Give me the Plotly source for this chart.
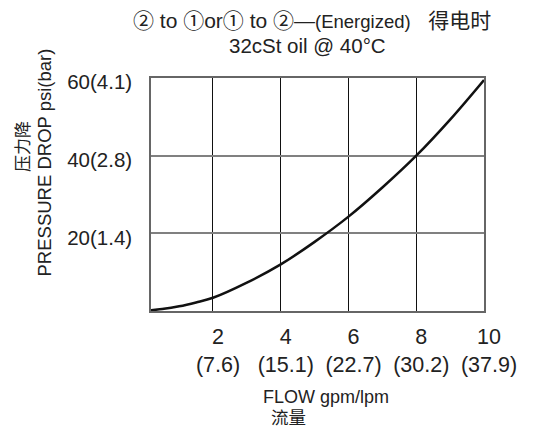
import plotly.graph_objects as go

flow_gpm = [0.17, 0.5, 1, 1.5, 2, 3, 4, 5, 6, 7, 8, 9, 10]
pressure_psi = [0.2, 0.5, 1.2, 2.2, 3.4, 7.3, 12.0, 17.8, 24.3, 31.8, 40.0, 49.3, 59.5]

x_tick_vals = [2, 4, 6, 8, 10]
x_tick_gpm = ["2", "4", "6", "8", "10"]
x_tick_lpm = ["(7.6)", "(15.1)", "(22.7)", "(30.2)", "(37.9)"]
y_tick_vals = [20, 40, 60]
y_tick_text = ["20(1.4)", "40(2.8)", "60(4.1)"]

FONT = "Liberation Sans, Arial, Noto Sans CJK SC, sans-serif"
INK = "#222222"

fig = go.Figure()
fig.add_trace(go.Scatter(
    x=flow_gpm, y=pressure_psi, mode="lines",
    line=dict(color="#111111", width=2.5, shape="spline"),
    hoverinfo="skip", showlegend=False,
))

OFF = 8  # page body margin
W, H = 534 - OFF, 428 - OFF
L, T = 151 - OFF, 78 - OFF
R = W - (484 - OFF)
B = H - (311 - OFF)
pw, ph = W - L - R, H - T - B

def px(xp):
    return (xp - OFF - L) / pw

def py(yp):
    return (H - B - (yp - OFF)) / ph

x_tick_text = [f"{g}<br>{l}" for g, l in zip(x_tick_gpm, x_tick_lpm)]

fig.update_layout(
    width=W, height=H,
    margin=dict(l=L, r=R, t=T, b=B, pad=0),
    paper_bgcolor="white", plot_bgcolor="white",
    font=dict(family=FONT, color=INK),
    xaxis=dict(
        range=[0.17, 10], tickvals=x_tick_vals, ticktext=x_tick_text,
        showgrid=True, gridcolor="#111111", gridwidth=1,
        showline=True, mirror=True, linecolor="#666666", linewidth=1.5,
        ticks="", tickangle=0, tickfont=dict(size=21.5, family=FONT, color=INK),
        ticklabelstandoff=5, ticklabelshift=5, zeroline=False, fixedrange=True,
    ),
    yaxis=dict(
        range=[0, 60], tickvals=y_tick_vals, ticktext=y_tick_text,
        showgrid=True, gridcolor="#808080", gridwidth=2,
        showline=True, mirror=True, linecolor="#666666", linewidth=1.5,
        ticks="", tickfont=dict(size=20.5, family=FONT, color=INK),
        ticklabelstandoff=13, ticklabelshift=4, zeroline=False, fixedrange=True,
    ),
)

ann = [
    dict(text="② to ①or① to ②—<span style='font-size:18.5px'>(Energized)</span>   得电时",
         x=px(312), y=py(20), size=21),
    dict(text="32cSt oil @ 40°C", x=px(307), y=py(45), size=20.5),
    dict(text="FLOW gpm/lpm", x=px(326), y=py(397), size=18),
    dict(text="流量", x=px(288), y=py(418), size=17.5),
]
for a in ann:
    fig.add_annotation(text=a["text"], x=a["x"], y=a["y"], xref="paper", yref="paper",
                       showarrow=False, xanchor="center", yanchor="middle",
                       font=dict(size=a["size"], family=FONT, color=INK))

fig.add_annotation(text="PRESSURE DROP psi(bar)", x=px(44), y=py(162.5), xref="paper", yref="paper",
                   showarrow=False, textangle=-90, xanchor="center", yanchor="middle",
                   font=dict(size=18.5, family=FONT, color=INK))
fig.add_annotation(text="压力降", x=px(23), y=py(147), xref="paper", yref="paper",
                   showarrow=False, textangle=-90, xanchor="center", yanchor="middle",
                   font=dict(size=17, family=FONT, color=INK))

fig.write_html("out.html")
